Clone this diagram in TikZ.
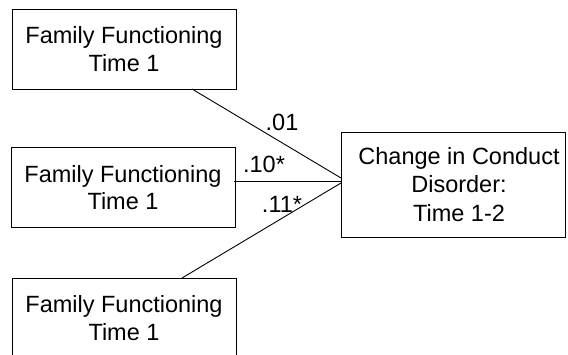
\documentclass[tikz,border=0pt]{standalone}
\usepackage{fontspec}
\setmainfont{Liberation Sans}
\begin{document}
\begin{tikzpicture}[x=1pt,y=-1pt,
  every node/.style={font=\fontsize{23.5}{27.5}\selectfont},
  box/.style={draw, line width=0.9pt, rectangle, inner sep=0pt, align=center},
  predictor/.style={box, minimum width=224pt, minimum height=80pt},
  outcome/.style={box, minimum width=224pt, minimum height=105pt},
  path/.style={line width=0.9pt},
  coef/.style={inner sep=0pt}]
  \clip (0,0) rectangle (568,354);
  \fill[white] (0,0) rectangle (568,354);

  % predictor boxes
  \node[predictor] (f1) at (124,49) {Family Functioning\\Time 1};
  \node[predictor] (f2) at (123,187.5) {Family Functioning\\Time 1};
  \node[predictor] (f3) at (124,318) {Family Functioning\\Time 1};

  % outcome box and its text
  \node[outcome] (out) at (453,184.5) {};
  \node[inner sep=0pt, align=center, font=\fontsize{23.5}{28.5}\selectfont] (outtext) at (459,184.5)
    {Change in Conduct\\Disorder:\\Time 1-2};

  % connector end points
  \coordinate (s1) at (192,89);
  \coordinate (s2) at (234,181);
  \coordinate (s3) at (182,278);
  \coordinate (t1) at (341,178);
  \coordinate (t2) at (341,181);
  \coordinate (t3) at (341,183);

  \draw[path] (s1) -- (t1);
  \draw[path] (s2) -- (t2);
  \draw[path] (s3) -- (t3);

  % path coefficients
  \node[coef] (c1) at (282,122) {.01};
  \node[coef] (c2) at (264,164) {.10*};
  \node[coef] (c3) at (282,204) {.11*};
\end{tikzpicture}
\end{document}
